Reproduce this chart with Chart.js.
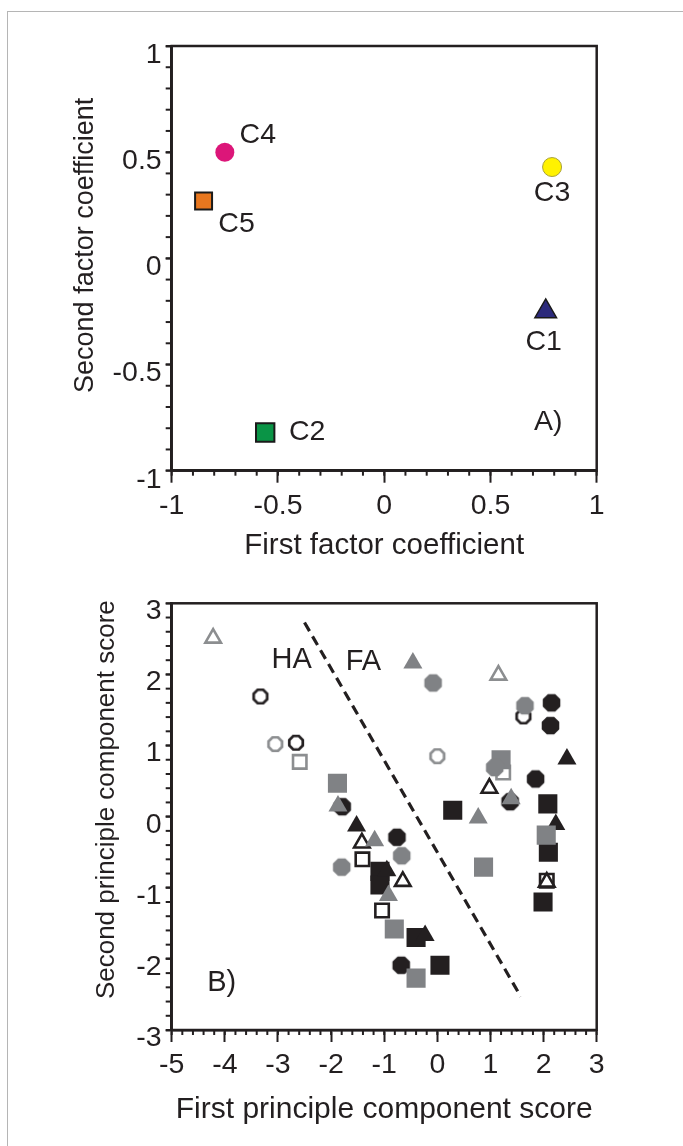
<!DOCTYPE html>
<html>
<head>
<meta charset="utf-8">
<script src="https://cdn.jsdelivr.net/npm/chart.js@4.4.0/dist/chart.umd.min.js"></script>
<style>
  body { margin: 0; background: #fff; width: 683px; height: 1146px; overflow: hidden; position: relative; }
  #frame { position: absolute; left: 7px; top: 11px; width: 700px; height: 1160px; border: 1.5px solid #b5b5b5; }
  canvas { position: absolute; left: 0; }
  #chartA { top: 0; }
  #chartB { top: 560px; }
</style>
</head>
<body>
<div id="frame"></div>
<canvas id="chartA" width="683" height="590"></canvas>
<canvas id="chartB" width="683" height="586"></canvas>
<script>
// ---- panel A: factor coefficients of the five components ----
const compNames = ['C1', 'C2', 'C3', 'C4', 'C5'];
const firstFactor = [0.76, -0.56, 0.79, -0.75, -0.85];
const secondFactor = [-0.25, -0.82, 0.43, 0.50, 0.27];
const factorTicks = [-1, -0.5, 0, 0.5, 1];

// ---- panel B: principal component scores, [first, second] ----
const grayTriOpen = [[-4.22, 2.51], [1.15, 1.99]];
const grayTriFilled = [[-0.46, 2.16], [1.39, 0.25], [0.77, -0.02], [-1.87, 0.15], [-1.18, -0.34], [-0.92, -1.11]];
const blackTriOpen = [[0.98, 0.40], [-1.42, -0.37], [-0.65, -0.91], [2.06, -0.92]];
const blackTriFilled = [[2.44, 0.81], [2.23, -0.11], [-1.52, -0.13], [-0.95, -0.76], [-0.23, -1.67]];
const grayOctOpen = [[-3.05, 1.02], [0.0, 0.85]];
const grayOctFilled = [[-0.08, 1.88], [1.65, 1.56], [1.08, 0.69], [-0.67, -0.55], [-1.8, -0.71]];
const blackOctOpen = [[-3.33, 1.69], [-2.66, 1.04], [1.62, 1.41]];
const blackOctFilled = [[2.15, 1.6], [2.13, 1.28], [1.85, 0.53], [1.37, 0.21], [-1.79, 0.14], [-0.76, -0.29], [-0.68, -2.09]];
const graySqOpen = [[-2.59, 0.77], [1.24, 0.62]];
const graySqFilled = [[-1.88, 0.47], [1.2, 0.8], [2.05, -0.26], [0.87, -0.71], [-0.81, -1.58], [-0.4, -2.27]];
const blackSqOpen = [[-1.41, -0.6], [-1.04, -1.32], [2.06, -0.9]];
const blackSqFilled = [[0.29, 0.09], [2.08, 0.18], [2.09, -0.5], [1.99, -1.2], [-1.08, -0.77], [-1.08, -0.96], [-0.4, -1.7], [0.05, -2.09]];
const dividerX = [-2.5, 1.57];
const dividerY = [2.73, -2.53];
const scoreXTicks = [-5, -4, -3, -2, -1, 0, 1, 2, 3];
const scoreYTicks = [-3, -2, -1, 0, 1, 2, 3];

const FONT = '"Liberation Sans", Arial, sans-serif';
const INK = '#231f20';
const GRAY = '#808285';
const GRAY_LINE = '#8c8e90';

// draws the box round the plot area, the short minor ticks and the rotated y title
const frameTicks = {
    id: 'frameTicks',
    afterDraw(chart, args, opts) {
        const ctx = chart.ctx;
        const a = chart.chartArea;
        const xs = chart.scales.x, ys = chart.scales.y;
        ctx.save();
        ctx.strokeStyle = INK;
        ctx.lineWidth = 2.5;
        ctx.strokeRect(a.left, a.top, a.right - a.left, a.bottom - a.top);
        ctx.lineWidth = 2;
        for (let v = xs.min; v <= xs.max + 1e-9; v += opts.xStep) {
            const px = xs.getPixelForValue(v);
            ctx.beginPath();
            ctx.moveTo(px, a.bottom);
            ctx.lineTo(px, a.bottom + opts.xLen);
            ctx.stroke();
        }
        for (let v = ys.min; v <= ys.max + 1e-9; v += opts.yStep) {
            const py = ys.getPixelForValue(v);
            ctx.beginPath();
            ctx.moveTo(a.left, py);
            ctx.lineTo(a.left - opts.yLen, py);
            ctx.stroke();
        }
        // y title
        ctx.translate(opts.titleX, (a.top + a.bottom) / 2 + opts.titleShift);
        ctx.rotate(-Math.PI / 2);
        ctx.font = opts.titleFont;
        ctx.fillStyle = INK;
        ctx.textAlign = 'center';
        ctx.textBaseline = 'middle';
        ctx.fillText(opts.title, 0, 0);
        ctx.restore();
    }
};

// text notes placed by data value, with an optional pixel nudge
const notes = {
    id: 'notes',
    afterDatasetsDraw(chart, args, opts) {
        const ctx = chart.ctx;
        const xs = chart.scales.x, ys = chart.scales.y;
        ctx.save();
        ctx.font = opts.font;
        ctx.fillStyle = INK;
        ctx.textAlign = 'center';
        ctx.textBaseline = 'middle';
        opts.items.forEach(it => {
            ctx.fillText(it.text, xs.getPixelForValue(it.x) + (it.dx || 0), ys.getPixelForValue(it.y) + (it.dy || 0));
        });
        ctx.restore();
    }
};

function octagon(r, fill, stroke, lw) {
    const size = Math.ceil(2 * r + lw + 2);
    const c = document.createElement('canvas');
    c.width = size;
    c.height = size;
    const ctx = c.getContext('2d');
    ctx.beginPath();
    for (let i = 0; i < 8; i++) {
        const ang = Math.PI / 8 + i * Math.PI / 4;
        const px = size / 2 + r * Math.cos(ang);
        const py = size / 2 + r * Math.sin(ang);
        if (i === 0) ctx.moveTo(px, py); else ctx.lineTo(px, py);
    }
    ctx.closePath();
    ctx.fillStyle = fill;
    ctx.fill();
    if (lw > 0) {
        ctx.lineWidth = lw;
        ctx.strokeStyle = stroke;
        ctx.stroke();
    }
    return c;
}

function axisOpts(tickValues, tickLen, pad, size, extra) {
    return Object.assign({
        type: 'linear',
        min: tickValues[0],
        max: tickValues[tickValues.length - 1],
        afterBuildTicks: s => { s.ticks = tickValues.map(v => ({ value: v })); },
        grid: { drawOnChartArea: false, tickLength: tickLen, tickWidth: 2, tickColor: INK },
        border: { color: INK, width: 2.5 },
        ticks: { color: INK, font: { family: FONT, size: size }, padding: pad, maxRotation: 0, autoSkip: false, callback: v => String(v) }
    }, extra);
}

// ---------------- chart A ----------------
const compStyle = ['triangle', 'rect', 'circle', 'circle', 'rect'];
const compFill = ['#2c2a7b', '#0a9446', '#fff200', '#dc1679', '#e8771f'];
const compBorder = ['#1a1a1a', '#1a1a1a', '#a8a03c', '#dc1679', '#1a1a1a'];
const compRadius = [12.5, 13, 9.5, 9.5, 12];
const compBorderW = [1.5, 2, 1, 0, 2];
const compLabelNudge = [[-2, 31], [42, 0], [0, 26], [33, -17], [33, 23]];

const xA = axisOpts(factorTicks, 12, 6, 28.5, {
    afterFit: s => { s.height = 119.3; },
    title: { display: true, text: 'First factor coefficient', color: INK, font: { family: FONT, size: 29.5 }, padding: { top: 0, bottom: 26.6 } }
});
const yA = axisOpts(factorTicks, 6, 4, 28.5, {
    afterFit: s => { s.width = 171.7; }
});
yA.ticks.labelOffset = 9;

new Chart(document.getElementById('chartA'), {
    type: 'scatter',
    data: {
        datasets: [{
            data: compNames.map((n, i) => ({ x: firstFactor[i], y: secondFactor[i] })),
            pointStyle: compStyle,
            pointRadius: compRadius,
            pointBackgroundColor: compFill,
            pointBorderColor: compBorder,
            pointBorderWidth: compBorderW
        }]
    },
    options: {
        responsive: false,
        animation: false,
        events: [],
        layout: { padding: { top: 46, right: 86.3, left: 0, bottom: 0 } },
        scales: { x: xA, y: yA },
        plugins: {
            legend: { display: false },
            tooltip: { enabled: false },
            frameTicks: {
                xStep: 0.1, xLen: 5, yStep: 0.1, yLen: 6,
                title: 'Second factor coefficient', titleFont: '27px ' + FONT, titleX: 86, titleShift: -13
            },
            notes: {
                font: '28.5px ' + FONT,
                items: compNames.map((n, i) => ({
                    text: n, x: firstFactor[i], y: secondFactor[i],
                    dx: compLabelNudge[i][0], dy: compLabelNudge[i][1]
                })).concat([{ text: 'A)', x: 0.772, y: -0.77 }])
            }
        }
    },
    plugins: [frameTicks, notes]
});

// ---------------- chart B ----------------
const triFilled = color => ({ pointStyle: 'triangle', pointRadius: 11, pointBackgroundColor: color, pointBorderWidth: 0 });
const triOpen = color => ({ pointStyle: 'triangle', pointRadius: 9, pointBackgroundColor: '#fff', pointBorderColor: color, pointBorderWidth: 2.6 });
const sqFilled = color => ({ pointStyle: 'rect', pointRadius: 13.5, pointBackgroundColor: color, pointBorderWidth: 0 });
const sqOpen = color => ({ pointStyle: 'rect', pointRadius: 9.5, pointBackgroundColor: '#fff', pointBorderColor: color, pointBorderWidth: 2.6 });
const octFilled = color => ({ pointStyle: octagon(9.5, color, color, 0), pointRadius: 9 });
const octOpen = color => ({ pointStyle: octagon(7.3, '#fff', color, 2.7), pointRadius: 9 });

function series(points, style) {
    return Object.assign({ data: points.map(p => ({ x: p[0], y: p[1] })) }, style);
}

// first dataset is painted on top
const scoreSets = [
    series(grayTriFilled, triFilled(GRAY)),
    series(grayOctFilled, octFilled(GRAY)),
    series(graySqFilled, sqFilled(GRAY)),
    series(grayTriOpen, triOpen(GRAY_LINE)),
    series(grayOctOpen, octOpen(GRAY_LINE)),
    series(graySqOpen, sqOpen(GRAY_LINE)),
    series(blackTriOpen, triOpen(INK)),
    series(blackSqOpen, sqOpen(INK)),
    series(blackOctOpen, octOpen(INK)),
    series(blackTriFilled, triFilled(INK)),
    series(blackSqFilled, sqFilled(INK)),
    series(blackOctFilled, octFilled(INK)),
    {
        data: dividerX.map((x, i) => ({ x: x, y: dividerY[i] })),
        showLine: true,
        pointRadius: 0,
        borderColor: INK,
        borderWidth: 3.2,
        borderDash: [10, 6]
    }
];

const xB = axisOpts(scoreXTicks, 12, 6, 28.5, {
    afterFit: s => { s.height = 116; },
    title: { display: true, text: 'First principle component score', color: INK, font: { family: FONT, size: 30 }, padding: { top: 0, bottom: 18.6 } }
});
const yB = axisOpts(scoreYTicks, 6, 4, 28.5, {
    afterFit: s => { s.width = 171.7; }
});
yB.ticks.labelOffset = 8;

new Chart(document.getElementById('chartB'), {
    type: 'scatter',
    data: { datasets: scoreSets },
    options: {
        responsive: false,
        animation: false,
        events: [],
        layout: { padding: { top: 43.3, right: 86.3, left: 0, bottom: 0 } },
        scales: { x: xB, y: yB },
        plugins: {
            legend: { display: false },
            tooltip: { enabled: false },
            frameTicks: {
                xStep: 0.2, xLen: 5, yStep: 0.2, yLen: 6,
                title: 'Second principle component score', titleFont: '26px ' + FONT, titleX: 107, titleShift: -17
            },
            notes: {
                font: '29px ' + FONT,
                items: [
                    { text: 'HA', x: -2.74, y: 2.2 },
                    { text: 'FA', x: -1.39, y: 2.18 },
                    { text: 'B)', x: -4.06, y: -2.34 }
                ]
            }
        }
    },
    plugins: [frameTicks, notes]
});
</script>
</body>
</html>
